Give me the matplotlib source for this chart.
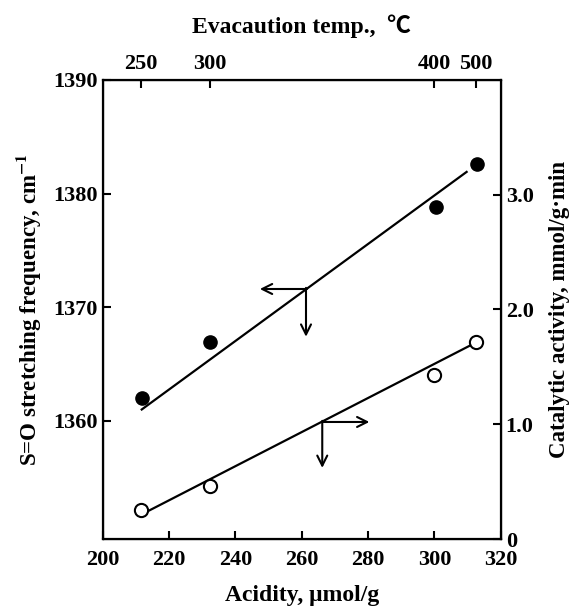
import matplotlib
matplotlib.use("Agg")
import matplotlib.pyplot as plt

plt.rcParams['font.family'] = ['Liberation Serif', 'Noto Sans CJK JP']
plt.rcParams['font.weight'] = 'bold'
plt.rcParams['axes.labelweight'] = 'bold'
plt.rcParams['mathtext.fontset'] = 'stix'

# S=O frequency (filled circles, left axis)
acid_filled = [211.8, 232.4, 300.4, 312.8]
freq_filled = [1362.0, 1366.9, 1378.8, 1382.6]
fit_acid_filled = [211.8, 309.7]
fit_freq_filled = [1361.0, 1381.9]

# catalytic activity (open circles, right axis)
acid_open = [211.6, 232.4, 299.9, 312.6]
activity_open = [0.25, 0.46, 1.43, 1.72]
fit_acid_open = [212.1, 311.7]
fit_activity_open = [0.22, 1.70]

# top axis: evacuation temperature at its acidity
temp_acid = [211.5, 232.4, 299.9, 312.6]
temp_labels = ['250', '300', '400', '500']

fig = plt.figure(figsize=(5.73, 6.14), dpi=100)
ax = fig.add_axes([0.179, 0.122, 0.695, 0.748])

ax.plot(fit_acid_filled, fit_freq_filled, color='black', lw=1.6)
ax.plot(acid_filled, freq_filled, 'o', color='black', ms=9.5)
ax.set_xlim(200, 320)
ax.set_ylim(1349.6, 1390)
ax.set_xticks([200, 220, 240, 260, 280, 300, 320])
ax.set_yticks([1360, 1370, 1380, 1390])
ax.tick_params(direction='in', length=6, width=1.5, labelsize=16)
ax.tick_params(axis='x', pad=8)
for s in ax.spines.values():
    s.set_linewidth(1.6)
ax.set_xlabel('Acidity, μmol/g', fontsize=17, labelpad=11)
ax.set_ylabel('S=O stretching frequency, cm$^{\\mathbf{-1}}$', fontsize=16.5, labelpad=7)

# arrow pointing to left axis
ax.annotate('', xy=(247.4, 1371.6), xytext=(261.6, 1371.6),
            arrowprops=dict(arrowstyle='->', lw=1.5, color='black', mutation_scale=18,
                            shrinkA=0, shrinkB=0))
ax.annotate('', xy=(261.3, 1367.4), xytext=(261.3, 1371.7),
            arrowprops=dict(arrowstyle='->', lw=1.5, color='black', mutation_scale=18,
                            shrinkA=0, shrinkB=0))

ax2 = ax.twinx()
ax2.plot(fit_acid_open, fit_activity_open, color='black', lw=1.6)
ax2.plot(acid_open, activity_open, 'o', mfc='white', mec='black', mew=1.5, ms=9.5)
ax2.set_ylim(0, 4.0)
ax2.set_yticks([0, 1.0, 2.0, 3.0])
ax2.set_yticklabels(['0', '1.0', '2.0', '3.0'])
ax2.tick_params(direction='in', length=6, width=1.5, labelsize=16)
ax2.set_ylabel('Catalytic activity, mmol/g·min', fontsize=16.5, labelpad=11)

# arrow pointing to right axis
ax2.annotate('', xy=(280.4, 1.02), xytext=(266.0, 1.02),
             arrowprops=dict(arrowstyle='->', lw=1.5, color='black', mutation_scale=18,
                             shrinkA=0, shrinkB=0))
ax2.annotate('', xy=(266.2, 0.62), xytext=(266.2, 1.03),
             arrowprops=dict(arrowstyle='->', lw=1.5, color='black', mutation_scale=18,
                             shrinkA=0, shrinkB=0))

ax3 = ax.twiny()
ax3.set_xlim(ax.get_xlim())
ax3.set_xticks(temp_acid)
ax3.set_xticklabels(temp_labels)
ax3.tick_params(direction='in', length=6, width=1.5, labelsize=16, pad=4)
ax3.set_xlabel('Evacaution temp.,  ℃', fontsize=17, labelpad=15)

fig.savefig('out.png', dpi=100)
